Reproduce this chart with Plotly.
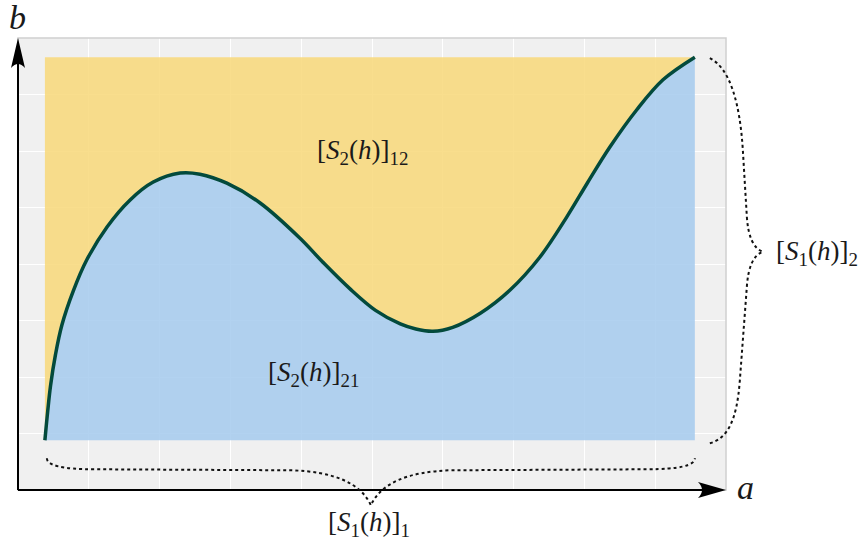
import plotly.graph_objects as go

# ---- data ----
a_vals = [0.38, 0.42, 0.46, 0.53, 0.62, 0.78, 0.97, 1.26, 1.58, 1.91, 2.29, 2.57, 2.95, 3.42, 3.98,
          4.30, 4.69, 5.05, 5.40, 5.62, 5.86, 6.14, 6.53, 6.95, 7.37, 7.75, 8.04, 8.36, 8.74, 9.11, 9.56]
b_vals = [0.88, 1.40, 1.85, 2.40, 2.92, 3.52, 4.07, 4.66, 5.13, 5.45, 5.61, 5.59, 5.43, 5.08, 4.46,
          4.04, 3.56, 3.18, 2.94, 2.85, 2.81, 2.88, 3.13, 3.54, 4.12, 4.83, 5.43, 6.07, 6.73, 7.26, 7.66]
a_range = [0, 10]
b_range = [0, 8]
region_labels = ["[<i>S</i><sub>2</sub>(<i>h</i>)]<sub>12</sub>",
                 "[<i>S</i><sub>2</sub>(<i>h</i>)]<sub>21</sub>"]
brace_labels = ["[<i>S</i><sub>1</sub>(<i>h</i>)]<sub>1</sub>",
                "[<i>S</i><sub>1</sub>(<i>h</i>)]<sub>2</sub>"]
axis_labels = ["<i>a</i>", "<i>b</i>"]

W, H = 868, 548
ML, MR, MT, MB = 18, 142, 38, 58
PW, PH = W - ML - MR, H - MT - MB

a0, a1 = a_vals[0], a_vals[-1]
base, top = b_vals[0], b_vals[-1]
n = len(a_vals)

YELLOW = "rgba(248,216,121,0.85)"
BLUE = "rgba(164,202,237,0.85)"
CURVE = "#034a3c"
FONT = "'Liberation Serif', 'Times New Roman', Times, serif"

fig = go.Figure()
fig.add_trace(go.Scatter(x=a_vals, y=[top] * n, mode="lines", line=dict(width=0),
                         hoverinfo="skip", showlegend=False))
fig.add_trace(go.Scatter(x=a_vals, y=b_vals, mode="lines", fill="tonexty", fillcolor=YELLOW,
                         line=dict(width=0, shape="spline", smoothing=1.0),
                         hoverinfo="skip", showlegend=False))
fig.add_trace(go.Scatter(x=a_vals, y=[base] * n, mode="lines", line=dict(width=0),
                         hoverinfo="skip", showlegend=False))
fig.add_trace(go.Scatter(x=a_vals, y=b_vals, mode="lines", fill="tonexty", fillcolor=BLUE,
                         line=dict(width=3.5, color=CURVE, shape="spline", smoothing=1.0),
                         showlegend=False))


def dpx(x):
    return ML + (x - a_range[0]) / (a_range[1] - a_range[0]) * PW


def dpy(y):
    return MT + PH - (y - b_range[0]) / (b_range[1] - b_range[0]) * PH


def pp(px, py):
    return f"{(px - ML) / PW:.5f},{(MT + PH - py) / PH:.5f}"


xl, xr = dpx(a0) + 2, dpx(a1)
xm = (xl + xr) / 2
yb = dpy(base)
bottom_path = (f"M{pp(xl, yb + 18)} Q{pp(xl, yb + 29)} {pp(xl + 48, yb + 29)} "
               f"L{pp(xm - 80, yb + 30)} Q{pp(xm - 15, yb + 32)} {pp(xm, yb + 65)} "
               f"Q{pp(xm + 15, yb + 32)} {pp(xm + 80, yb + 30)} "
               f"L{pp(xr - 48, yb + 29)} Q{pp(xr, yb + 29)} {pp(xr, yb + 18)}")
rx = dpx(a1)
yt, ybt = dpy(top), dpy(base)
ym = (yt + ybt) / 2 + 3
right_path = (f"M{pp(rx + 15, yt + 1)} C{pp(rx + 35, yt + 11)} {pp(rx + 45, yt + 45)} {pp(rx + 48, yt + 93)} "
              f"L{pp(rx + 52, ym - 35)} Q{pp(rx + 54, ym - 5)} {pp(rx + 68, ym)} "
              f"Q{pp(rx + 54, ym + 5)} {pp(rx + 52, ym + 35)} "
              f"L{pp(rx + 45, ybt - 60)} C{pp(rx + 42, ybt - 20)} {pp(rx + 33, ybt - 2)} {pp(rx + 15, ybt + 3)}")

shapes = [
    dict(type="rect", xref="paper", yref="paper", x0=0, y0=0, x1=1, y1=1,
         line=dict(color="#cfcfcf", width=1.5), layer="above"),
    dict(type="line", xref="paper", yref="paper", x0=0, y0=0, x1=0, y1=0.96,
         line=dict(color="black", width=2), layer="above"),
    dict(type="line", xref="paper", yref="paper", x0=0, y0=0, x1=0.975, y1=0,
         line=dict(color="black", width=2), layer="above"),
    dict(type="path", xref="paper", yref="paper", xsizemode="pixel", ysizemode="pixel",
         xanchor=0, yanchor=1, path="M0,0 L-7,-30 Q0,-22 7,-30 Z",
         fillcolor="black", line=dict(width=0), layer="above"),
    dict(type="path", xref="paper", yref="paper", xsizemode="pixel", ysizemode="pixel",
         xanchor=1, yanchor=0, path="M0,0 L-28,8 Q-20,0 -28,-8 Z",
         fillcolor="black", line=dict(width=0), layer="above"),
    dict(type="path", xref="paper", yref="paper", path=bottom_path,
         line=dict(color="#111", width=2, dash="dot"), layer="above"),
    dict(type="path", xref="paper", yref="paper", path=right_path,
         line=dict(color="#111", width=2, dash="dot"), layer="above"),
]


def ann(text, px, py, size):
    return dict(text=text, xref="paper", yref="paper",
                x=(px - ML) / PW, y=(MT + PH - py) / PH,
                xanchor="center", yanchor="middle", showarrow=False,
                font=dict(family=FONT, size=size, color="#1a1a1a"))


annotations = [
    ann(region_labels[0], 362, 152, 27),
    ann(region_labels[1], 313, 374, 27),
    ann(brace_labels[0], 369, 524, 27),
    ann(brace_labels[1], 817, 253, 27),
    ann(axis_labels[0], 745, 487, 34),
    ann(axis_labels[1], 17, 18, 34),
]

fig.update_layout(
    width=W, height=H,
    margin=dict(l=ML, r=MR, t=MT, b=MB, pad=0),
    paper_bgcolor="white", plot_bgcolor="#f0f0f0",
    font=dict(family=FONT),
    xaxis=dict(range=a_range, dtick=1, showgrid=True, gridcolor="white", gridwidth=1.2,
               zeroline=False, showline=False, showticklabels=False, ticks="",
               fixedrange=True),
    yaxis=dict(range=b_range, dtick=1, showgrid=True, gridcolor="white", gridwidth=1.2,
               zeroline=False, showline=False, showticklabels=False, ticks="",
               fixedrange=True),
    shapes=shapes, annotations=annotations, showlegend=False,
)

fig.write_html("out.html")
